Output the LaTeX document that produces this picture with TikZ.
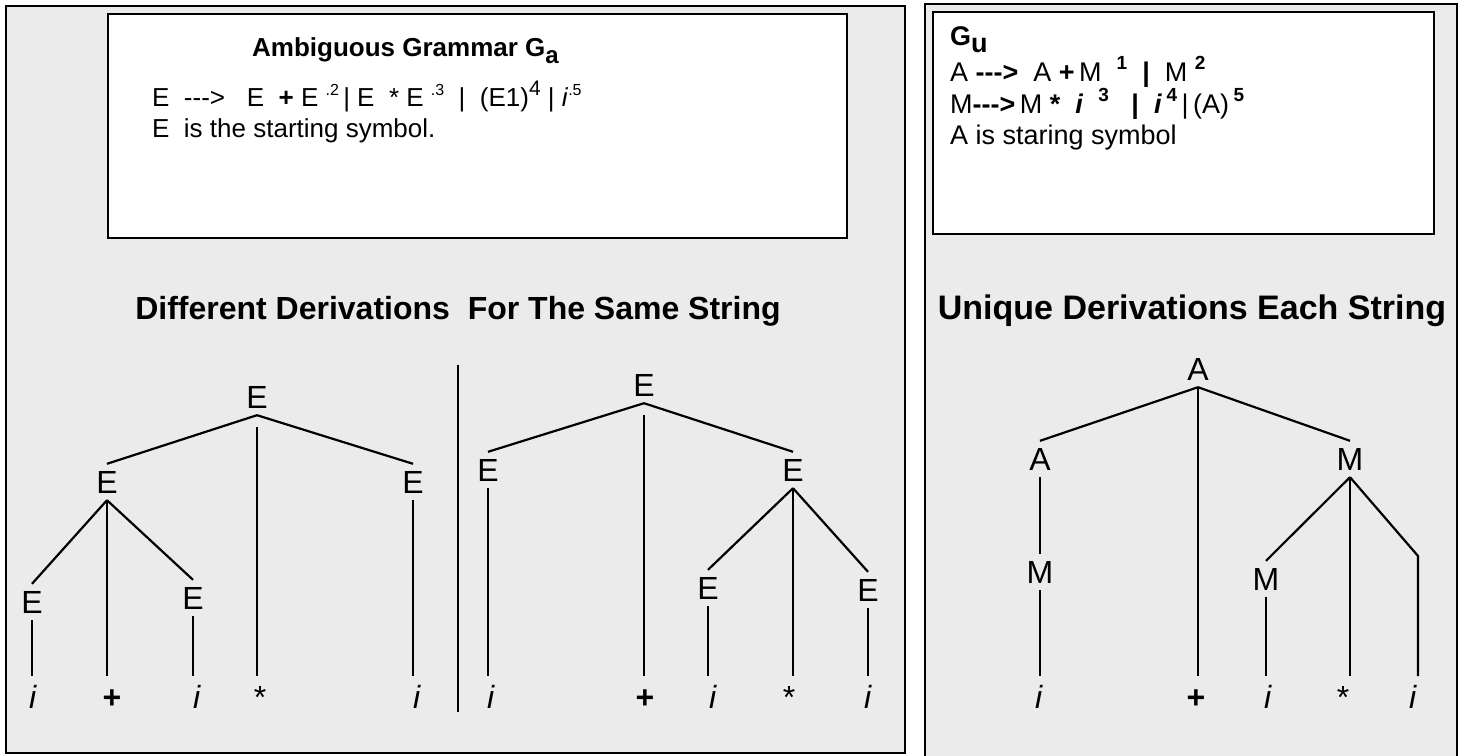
\documentclass[tikz,border=0pt]{standalone}
\usepackage{fontspec}
\newfontfamily\arial{Liberation Sans}
\definecolor{panelgray}{HTML}{EBEBEB}
\newcommand\supx[2][16]{\raisebox{0.42em}{\fontsize{#1}{#1}\selectfont #2}}
\begin{document}
\begin{tikzpicture}[x=1pt,y=-1pt,
  panel/.style={draw=black, line width=2.5pt, fill=panelgray},
  gbox/.style={draw=black, line width=2.5pt, fill=white},
  edge/.style={line width=2.2pt, draw=black},
  tn/.style={font=\arial\fontsize{32}{32}\selectfont, inner sep=0pt, minimum height=36pt},
  leaf/.style={font=\arial\fontsize{32}{32}\selectfont, inner sep=0pt, outer ysep=9pt, anchor=base, text height=23pt, text depth=0pt},
  boxtext/.style={font=\arial\fontsize{26}{26}\selectfont, inner sep=0pt, anchor=base west},
  rboxtext/.style={font=\arial\fontsize{27}{27}\selectfont, inner sep=0pt, anchor=base west},
  heading/.style={font=\arial\bfseries\fontsize{32}{32}\selectfont, inner sep=0pt, anchor=base},
]
\useasboundingbox (0,0) rectangle (1459,755);
\fill[white] (0,0) rectangle (1459,755);
\begin{scope}
\clip (0,0) rectangle (1459,755);
\draw[panel] (6,6) rectangle (905,753);
\draw[panel] (925,4) rectangle (1457,790);
\end{scope}
\draw[gbox] (108,14) rectangle (847,238);
\draw[gbox] (933,12) rectangle (1434,234);

% left grammar box
\node[font=\arial\bfseries\fontsize{26}{26}\selectfont, inner sep=0pt, anchor=base west] (tA) at (252,56) {Ambiguous Grammar G\raisebox{-0.3em}{\fontsize{24}{24}\selectfont a}};
\node[boxtext] (p1) at (152,106) {E~ --->~~ E~ \textbf{+}~E \supx{.2}\,|~E~ *~E \supx{.3}~~|~~(E1)\supx[21]{4}~|~\textit{i}\supx{.5}};
\node[boxtext] (p2) at (152,137) {E~ is the starting symbol.};

% right grammar box
\node[font=\arial\bfseries\fontsize{27}{27}\selectfont, inner sep=0pt, anchor=base west] (gu) at (950,45) {G\raisebox{-0.28em}{u}};
\node[rboxtext] (q1) at (950,81) {A \textbf{--->}~ A \textbf{+}\,M~ \supx[19]{\textbf{1}}~ \textbf{|}~ M \supx[19]{\textbf{2}}};
\node[rboxtext] (q2) at (950,113) {M\textbf{--->}\,M \textbf{*}~ \textbf{\textit{i}}~ \supx[19]{\textbf{3}}~~ \textbf{|}~ \textbf{\textit{i}}\,\supx[19]{\textbf{4}}\,|\,(A)\,\supx[19]{\textbf{5}}};
\node[rboxtext] (q3) at (950,144) {A is staring symbol};

% headings
\node[heading] (h1) at (458,319) {Different Derivations~ For The Same String};
\node[heading, font=\arial\bfseries\fontsize{34}{34}\selectfont] (h2) at (1192,319) {Unique Derivations Each String};

% ---------- tree 1 ----------
\node[tn] (a0) at (257,397) {E};
\node[tn] (a1) at (107,482) {E};
\node[tn] (a2) at (413,482) {E};
\node[tn] (a3) at (32,602) {E};
\node[tn] (a4) at (193,598) {E};
\node[leaf] (la1) at (33,708) {\textit{i}};
\node[leaf] (la2) at (112,708) {\textbf{+}};
\node[leaf] (la3) at (197,708) {\textit{i}};
\node[leaf] (la4) at (260,708) {*};
\node[leaf] (la5) at (417,708) {\textit{i}};
\draw[edge] (a0.south) -- (a1.north);
\draw[edge] (a0.south) -- (a2.north);
\draw[edge] ([yshift=-12pt]a0.south) -- (a0.south |- la4.north);
\draw[edge] (a1.south) -- (a3.north);
\draw[edge] (a1.south) -- (a1.south |- la2.north);
\draw[edge] (a1.south) -- (a4.north);
\draw[edge] (a3.south) -- (a3.south |- la1.north);
\draw[edge] (a4.south) -- (a4.south |- la3.north);
\draw[edge] (a2.south) -- (a2.south |- la5.north);

% separator
\draw[edge] (458,365) -- (458,712);

% ---------- tree 2 ----------
\node[tn] (b0) at (644,385) {E};
\node[tn] (b1) at (488,470) {E};
\node[tn] (b2) at (793,470) {E};
\node[tn] (b3) at (708,588) {E};
\node[tn] (b4) at (868,590) {E};
\node[leaf] (lb1) at (491,708) {\textit{i}};
\node[leaf] (lb2) at (645,708) {\textbf{+}};
\node[leaf] (lb3) at (713,708) {\textit{i}};
\node[leaf] (lb4) at (789,708) {*};
\node[leaf] (lb5) at (868,708) {\textit{i}};
\draw[edge] (b0.south) -- (b1.north);
\draw[edge] (b0.south) -- (b2.north);
\draw[edge] ([yshift=-12pt]b0.south) -- (b0.south |- lb2.north);
\draw[edge] (b1.south) -- (b1.south |- lb1.north);
\draw[edge] (b2.south) -- (b3.north);
\draw[edge] (b2.south) -- (b2.south |- lb4.north);
\draw[edge] (b2.south) -- (b4.north);
\draw[edge] (b3.south) -- (b3.south |- lb3.north);
\draw[edge] (b4.south) -- (b4.south |- lb5.north);

% ---------- tree 3 ----------
\node[tn] (c0) at (1198,369) {A};
\node[tn] (c1) at (1040,459) {A};
\node[tn] (c2) at (1350,459) {M};
\node[tn] (c3) at (1040,572) {M};
\node[tn] (c4) at (1266,579) {M};
\node[leaf] (lc1) at (1039,708) {\textit{i}};
\node[leaf] (lc2) at (1196,708) {\textbf{+}};
\node[leaf] (lc3) at (1268,708) {\textit{i}};
\node[leaf] (lc4) at (1343,708) {*};
\node[leaf] (lc5) at (1413,708) {\textit{i}};
\coordinate (ck) at (1418,556);
\draw[edge] (c0.south) -- (c1.north);
\draw[edge] (c0.south) -- (c2.north);
\draw[edge] (c0.south) -- (c0.south |- lc2.north);
\draw[edge] (c1.south) -- (c3.north);
\draw[edge] (c3.south) -- (c3.south |- lc1.north);
\draw[edge] (c2.south) -- (c4.north);
\draw[edge] (c2.south) -- (c2.south |- lc4.north);
\draw[edge] (c2.south) -- (ck) -- (ck |- lc5.north);
\draw[edge] (c4.south) -- (c4.south |- lc3.north);
\end{tikzpicture}
\end{document}
